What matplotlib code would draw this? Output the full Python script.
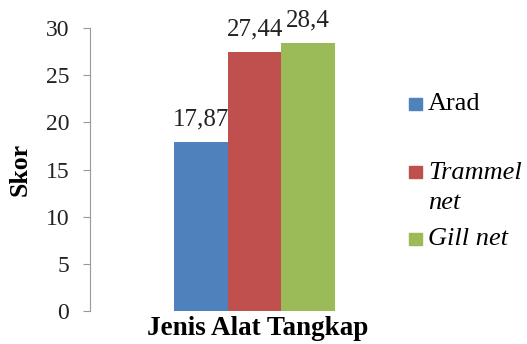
import matplotlib
matplotlib.use("Agg")
import matplotlib.pyplot as plt
from matplotlib.patches import Rectangle

series = ["Arad", "Trammel\nnet", "Gill net"]
values = [17.87, 27.44, 28.4]
value_labels = ["17,87", "27,44", "28,4"]
colors = ["#4F81BD", "#C0504D", "#9BBB59"]
styles = ["normal", "italic", "italic"]
yticks = [0, 5, 10, 15, 20, 25, 30]
xlabel = "Jenis Alat Tangkap"
ylabel = "Skor"

FONT = "Liberation Serif"
plt.rcParams['font.family'] = [FONT]

W, H = 527, 344
fig = plt.figure(figsize=(W / 100, H / 100), dpi=100)

ax = fig.add_axes([90 / W, (H - 311) / H, 330 / W, (311 - 28) / H])
offsets = [-1, 0, 1]
bars = ax.bar(offsets, values, width=1.0, color=colors)
ax.set_xlim(-3.065, 3.08)
ax.set_ylim(0, 30)
ax.set_yticks(yticks)
ax.set_yticklabels([str(t) for t in yticks], fontsize=17, color="#222222", family=FONT)
ax.set_xticks([])
for s in ["top", "right", "bottom"]:
    ax.spines[s].set_visible(False)
ax.spines["left"].set_color("#999999")
ax.tick_params(axis="y", length=5, color="#999999", pad=10)

for b, lab in zip(bars, value_labels):
    ax.annotate(lab, (b.get_x() + b.get_width() / 2, b.get_height()),
                xytext=(0, 16.5), textcoords="offset points",
                ha="center", va="center", fontsize=18, color="#222222", family=FONT)

fig.text(258 / W, 1 - 335 / H, xlabel, ha="center", va="baseline",
         fontsize=19.5, fontweight="bold", family=FONT)
fig.text(20 / W, 1 - 170 / H, ylabel, ha="center", va="center",
         fontsize=18.5, fontweight="bold", rotation=90, family=FONT)

# legend
ys = [104, 172, 239]
for name, c, st, y in zip(series, colors, styles, ys):
    fig.patches.append(Rectangle((409 / W, 1 - (y + 6) / H), 13 / W, 12 / H,
                                 transform=fig.transFigure, color=c))
    if "\n" in name:
        fig.text(428 / W, 1 - (y - 10) / H, name, ha="left", va="top",
                 fontsize=19, style=st, linespacing=1.5, family=FONT)
    else:
        fig.text(428 / W, 1 - y / H, name, ha="left", va="center",
                 fontsize=19, style=st, family=FONT)

fig.savefig("out.png", dpi=100)
